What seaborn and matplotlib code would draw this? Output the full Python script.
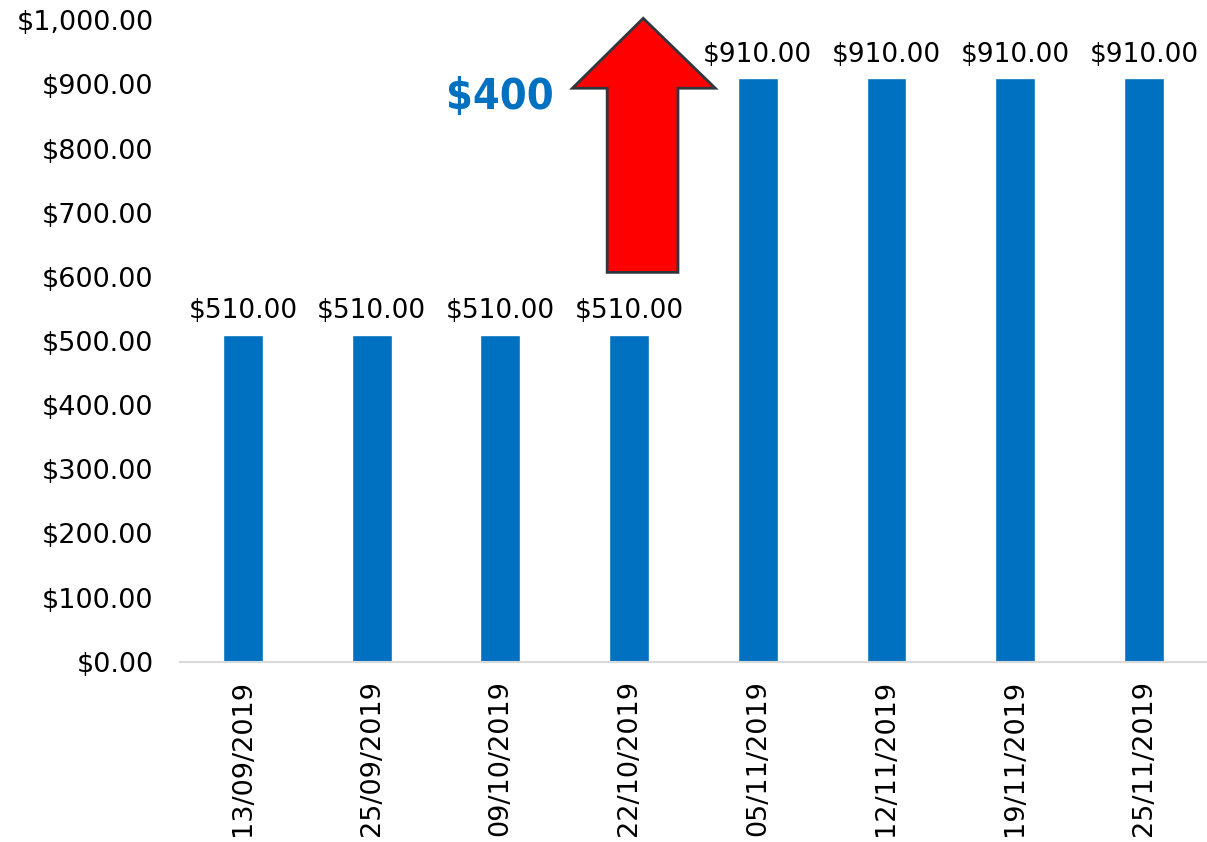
import matplotlib
matplotlib.use("Agg")
import matplotlib.pyplot as plt
import seaborn as sns
import pandas as pd
from matplotlib.patches import Polygon
from matplotlib.ticker import FuncFormatter

dates = ["13/09/2019", "25/09/2019", "09/10/2019", "22/10/2019",
         "05/11/2019", "12/11/2019", "19/11/2019", "25/11/2019"]
amounts = [510, 510, 510, 510, 910, 910, 910, 910]
increase_label = "$400"

df = pd.DataFrame({"date": dates, "amount": amounts})

sns.set_theme(style="white")
plt.rcParams['font.family'] = ['DejaVu Sans']

fig = plt.figure(figsize=(12.07, 8.42), dpi=100)
ax = fig.add_axes([0.149, 0.214, 0.851, 0.762])

sns.barplot(data=df, x="date", y="amount", color="#0070C0", saturation=1,
            width=0.31, ax=ax)

ax.set_xlim(-0.49, 7.49)
ax.set_ylim(0, 1000)
ax.set_yticks(range(0, 1001, 100))
ax.yaxis.set_major_formatter(FuncFormatter(lambda v, p: f"${v:,.2f}"))
ax.set_xlabel("")
ax.set_ylabel("")
ax.tick_params(axis="both", length=0, labelsize=19.5, colors="black")
ax.tick_params(axis="y", pad=19)
ax.tick_params(axis="x", pad=13)
for lab in ax.get_xticklabels():
    lab.set_rotation(90)
    lab.set_va("top")
for s in ["top", "right", "left"]:
    ax.spines[s].set_visible(False)
ax.spines["bottom"].set_color("#d9d9d9")
ax.spines["bottom"].set_linewidth(1.5)

for i, v in enumerate(amounts):
    ax.text(i, v + 16, f"${v:,.2f}", ha="center", va="bottom",
            fontsize=19, color="black")

# red arrow annotation
arrow_pts = [(3.11, 1003), (3.67, 894), (3.38, 894), (3.38, 607),
             (2.83, 607), (2.83, 894), (2.56, 894)]
ax.add_patch(Polygon(arrow_pts, closed=True, facecolor="#FF0000",
                     edgecolor="#30363d", linewidth=2, clip_on=False, zorder=5))

ax.text(2.0, 880, increase_label, ha="center", va="center", color="#0070C0",
        fontsize=31, fontweight="heavy", fontstretch="condensed",
        family=["DejaVu Sans"])

fig.savefig("out.png", dpi=100)
